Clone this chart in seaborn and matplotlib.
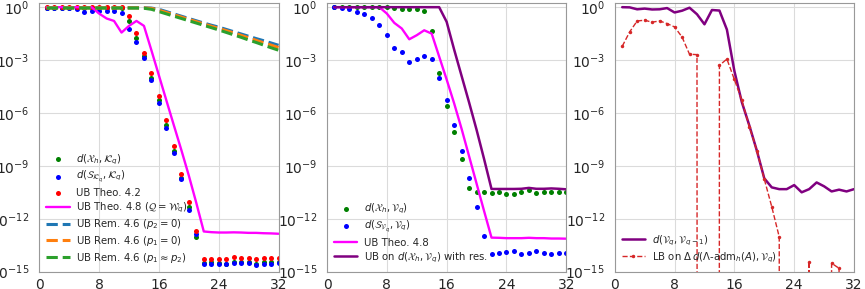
import matplotlib
matplotlib.use("Agg")
import matplotlib.pyplot as plt
from matplotlib.ticker import NullLocator
import seaborn as sns

# q = 1..32
q = list(range(1, 33))

# values are stored as log10 exponents, None means the bound is zero

# --- left panel: K_q ---
kq_xh = [-0.02] * 11 + [-0.78, -1.75, -2.75, -4.02, -5.29, -6.67, -8.13, -9.7, -11.32, -13.01,
                        -14.49, -14.45, -14.49, -14.54, -14.43, -14.43, -14.43, -14.54, -14.45, -14.45, -14.47]
kq_s = [-0.04, -0.04, -0.04, -0.05, -0.13, -0.28, -0.21, -0.2, -0.23, -0.23, -0.32,
        -1.23, -1.97, -2.86, -4.15, -5.42, -6.87, -8.25, -9.75, -11.53, -12.87,
        -14.54, -14.54, -14.54, -14.58, -14.52, -14.5, -14.52, -14.64, -14.54, -14.56, -14.5]
ub_42 = [0.0] * 11 + [-0.49, -1.46, -2.58, -3.74, -5.05, -6.39, -7.87, -9.44, -11.05, -12.68,
                      -14.26, -14.26, -14.26, -14.26, -14.16, -14.22, -14.22, -14.26, -14.2, -14.2, -14.22]
ub_48_k = [0.0] * 7 + [-0.36, -0.64, -0.78, -1.44, -1.06, -0.78, -1.06, -2.45, -3.87, -5.29, -6.7,
                       -8.1, -9.55, -11.1, -12.72, -12.76, -12.78, -12.78, -12.77, -12.78, -12.8,
                       -12.8, -12.82, -12.83, -12.85]
rem_p2 = [-0.03] * 14 + [-0.05, -0.12, -0.25, -0.38, -0.51, -0.64, -0.77, -0.9, -1.02, -1.13,
                         -1.26, -1.39, -1.52, -1.65, -1.78, -1.9, -2.03, -2.16]
rem_p1 = [-0.04] * 14 + [-0.07, -0.17, -0.3, -0.43, -0.56, -0.69, -0.82, -0.95, -1.08, -1.2,
                         -1.33, -1.46, -1.6, -1.74, -1.88, -2.02, -2.15, -2.29]
rem_eq = [-0.05] * 13 + [-0.06, -0.12, -0.25, -0.38, -0.51, -0.64, -0.77, -0.9, -1.03, -1.16,
                         -1.29, -1.43, -1.57, -1.71, -1.86, -2.0, -2.15, -2.3, -2.44]

# --- middle panel: V_q ---
vq_xh = [0.0] * 8 + [-0.04, -0.09, -0.13, -0.13, -0.19, -1.35, -3.74, -5.63, -7.09, -8.61,
                     -10.28, -10.5, -10.5, -10.54, -10.5, -10.62, -10.62, -10.5, -10.35, -10.52,
                     -10.5, -10.47, -10.47, -10.5]
vq_s = [0.0, -0.04, -0.13, -0.27, -0.4, -0.64, -0.99, -1.57, -2.31, -2.54, -3.11, -2.92,
        -2.75, -2.92, -4.02, -5.29, -6.67, -8.13, -9.71, -11.32, -12.97,
        -14.01, -13.92, -13.87, -13.84, -14.01, -13.92, -13.82, -13.94, -14.01, -13.94, -13.92]
ub_48_v = [0.0] * 7 + [-0.36, -0.89, -1.21, -1.82, -1.59, -1.31, -1.5, -2.8, -4.1, -5.45, -6.9,
                       -8.45, -10.0, -11.55, -13.07, -13.08, -13.1, -13.1, -13.1, -13.08, -13.1,
                       -13.1, -13.12, -13.12, -13.13]
ub_res = [0.0] * 15 + [-0.83, -2.4, -3.9, -5.4, -6.95, -8.6, -10.31, -10.31, -10.31, -10.31,
                       -10.3, -10.25, -10.3, -10.3, -10.28, -10.3, -10.33]

# --- right panel: consecutive spaces ---
d_cons = [0.0, -0.01, -0.12, -0.08, -0.13, -0.12, -0.05, -0.3, -0.2, -0.03, -0.4, -0.97,
          -0.16, -0.19, -1.27, -3.62, -5.39, -6.71, -8.13, -9.71, -10.22, -10.32, -10.32,
          -10.09, -10.5, -10.32, -9.94, -10.16, -10.45, -10.35, -10.45, -10.32]
lb_adm = [-2.22, -1.4, -0.78, -0.74, -0.85, -0.78, -0.93, -1.12, -1.69, -2.67, -2.69, None,
          None, -3.3, -2.94, -4.1, -5.29, -6.77, -8.13, -9.75, -11.32, -13.03, None, None,
          None, -14.43, None, None, -14.52, -14.81, None, None]


def val(exps):
    return [0.0 if e is None else 10.0 ** e for e in exps]


def dots(ax, y, color, label):
    sns.scatterplot(x=q, y=val(y), color=color, s=13, linewidth=0, label=label, ax=ax)


def line(ax, y, color, label, **kw):
    sns.lineplot(x=q, y=val(y), color=color, label=label, estimator=None, sort=False,
                 ax=ax, **kw)


sns.set_style("whitegrid", {"axes.edgecolor": "0.6", "grid.color": "0.86"})
plt.rcParams["xtick.labelsize"] = 10
plt.rcParams["ytick.labelsize"] = 10
plt.rcParams["xtick.major.pad"] = 1.2
plt.rcParams["ytick.major.pad"] = 3.5

fig, axes = plt.subplots(1, 3, figsize=(8.65, 2.89), dpi=100)
plt.subplots_adjust(left=0.0454, right=0.9873, bottom=0.06, top=0.9907, wspace=0.2025)

# Left
ax = axes[0]
dots(ax, kq_xh, "green", r"$d(\mathcal{X}_h, \mathcal{K}_q)$")
dots(ax, kq_s, "blue", r"$d(\mathcal{S}_{\mathcal{K}_q}, \mathcal{K}_q)$")
dots(ax, ub_42, "red", "UB Theo. 4.2")
line(ax, ub_48_k, "magenta", r"UB Theo. 4.8 ($\mathcal{Q} = \mathcal{W}_q$)", linewidth=1.7)
line(ax, rem_p2, "tab:blue", r"UB Rem. 4.6 ($p_2 = 0$)", linestyle="--", linewidth=2.2)
line(ax, rem_p1, "tab:orange", r"UB Rem. 4.6 ($p_1 = 0$)", linestyle="--", linewidth=2.2)
line(ax, rem_eq, "tab:green", r"UB Rem. 4.6 ($p_1 \approx p_2$)", linestyle="--", linewidth=2.2)

# Middle
ax = axes[1]
dots(ax, vq_xh, "green", r"$d(\mathcal{X}_h, \mathcal{V}_q)$")
dots(ax, vq_s, "blue", r"$d(\mathcal{S}_{\mathcal{V}_q}, \mathcal{V}_q)$")
line(ax, ub_48_v, "magenta", "UB Theo. 4.8", linewidth=1.7)
line(ax, ub_res, "purple", r"UB on $d(\mathcal{X}_h, \mathcal{V}_q)$ with res.", linewidth=1.8)

# Right
ax = axes[2]
line(ax, d_cons, "purple", r"$d(\mathcal{V}_q, \mathcal{V}_{q-1})$", linewidth=1.8)
line(ax, lb_adm, "tab:red", r"LB on $\Delta\,d(\Lambda$-adm$_h(A), \mathcal{V}_q)$",
     linestyle="--", linewidth=1.0, marker=".", markersize=5, markeredgewidth=0)

for ax in axes:
    ax.set_yscale("log")
    ax.set_ylim(1e-15, 1.8)
    ax.set_xlim(0, 32)
    ax.set_xticks([0, 8, 16, 24, 32])
    ax.set_yticks([1e-15, 1e-12, 1e-9, 1e-6, 1e-3, 1])
    ax.yaxis.set_minor_locator(NullLocator())
    ax.set_xlabel("")
    ax.set_ylabel("")
    ax.legend(loc="lower left", frameon=False, fontsize=7.3, handlelength=2.3,
              handletextpad=0.65, borderaxespad=0.3, labelspacing=0.25)

fig.savefig("out.png", dpi=100)
